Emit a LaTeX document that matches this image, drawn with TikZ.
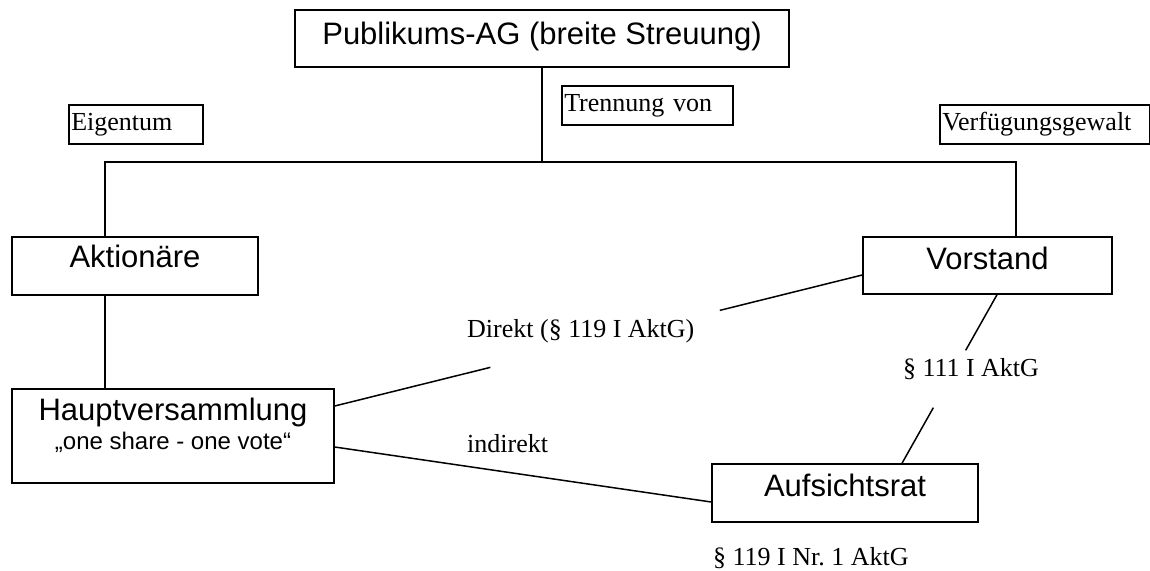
\documentclass[tikz,border=0pt]{standalone}
\usepackage{fontspec}
\setmainfont{Liberation Serif}
\newfontfamily\arialfont{Liberation Sans}
\usetikzlibrary{calc}
\frenchspacing

\begin{document}
\begin{tikzpicture}[
    x=1pt, y=-1pt,
    box/.style={draw, line width=1.5pt, inner sep=0pt, font=\arialfont\fontsize{31}{36}\selectfont, text height=22pt, text depth=15pt},
    tag/.style={draw, line width=1.5pt, anchor=north west, inner xsep=2.5pt, inner ysep=0pt, minimum height=39pt, text height=19pt, text depth=6pt, align=left, font=\fontsize{26}{30}\selectfont},
    note/.style={anchor=base west, inner sep=0pt, font=\fontsize{26}{30}\selectfont},
    plain/.style={line width=1.5pt}
]
    \useasboundingbox (0,0) rectangle (1150,570);

    \node[box, minimum width=494pt, minimum height=57pt, text depth=11pt] (ag) at (542,38.5) {Publikums-AG (breite Streuung)};
    \node[box, minimum width=246pt, minimum height=58pt, text depth=20pt] (akt) at (135,266) {Aktionäre};
    \node[box, minimum width=249pt, minimum height=57pt] (vor) at (987.5,265.5) {Vorstand};
    \node[box, minimum width=322pt, minimum height=94pt, text depth=54pt] (hv) at (173,436) {Hauptversammlung};
    \node[anchor=base, inner sep=0pt, font=\arialfont\fontsize{24}{28}\selectfont] (hvsub) at (173,449) {„one share - one vote“};
    \node[box, minimum width=266pt, minimum height=58pt] (auf) at (845,493) {Aufsichtsrat};

    \node[tag, text width=129pt] (eig) at (68,104) {Eigentum};
    \node[tag, text width=166pt] (tre) at (561,85) {Trennung von};
    \node[tag, text width=205pt] (verf) at (939,104) {Verfügungsgewalt};

    \node[note] (direkt) at (467,337) {Direkt (§ 119 I AktG)};
    \node[note] (indirekt) at (467,452) {indirekt};
    \node[note, anchor=base] (p111) at (971,376) {§ 111 I AktG};
    \node[note] (p119) at (713,565) {§ 119 I Nr. 1 AktG};

    \coordinate (split) at (542,162);
    \coordinate (joinL) at (105,162);
    \coordinate (joinR) at (1016,162);
    \coordinate (hvd) at ([yshift=30pt]hv.east);
    \coordinate (vord) at ([yshift=-9.5pt]vor.west);
    \coordinate (hvi) at ([yshift=-11pt]hv.east);
    \coordinate (aufi) at ([yshift=-9pt]auf.west);
    \coordinate (vors) at ([xshift=9.5pt]vor.south);
    \coordinate (aufn) at ([xshift=57pt]auf.north);

    \draw[plain] (ag.south) -- (split);
    \draw[plain] (akt.north -| joinL) -- (joinL) -- (joinR) -- (vor.north -| joinR);
    \draw[plain] (akt.south -| joinL) -- (hv.north -| joinL);
    \draw[plain] (hvd) -- ($(hvd)!0.295!(vord)$);
    \draw[plain] ($(hvd)!0.73!(vord)$) -- (vord);
    \draw[plain] (hvi) -- (aufi);
    \draw[plain] (vors) -- ($(vors)!0.33!(aufn)$);
    \draw[plain] ($(vors)!0.67!(aufn)$) -- (aufn);
\end{tikzpicture}
\end{document}
